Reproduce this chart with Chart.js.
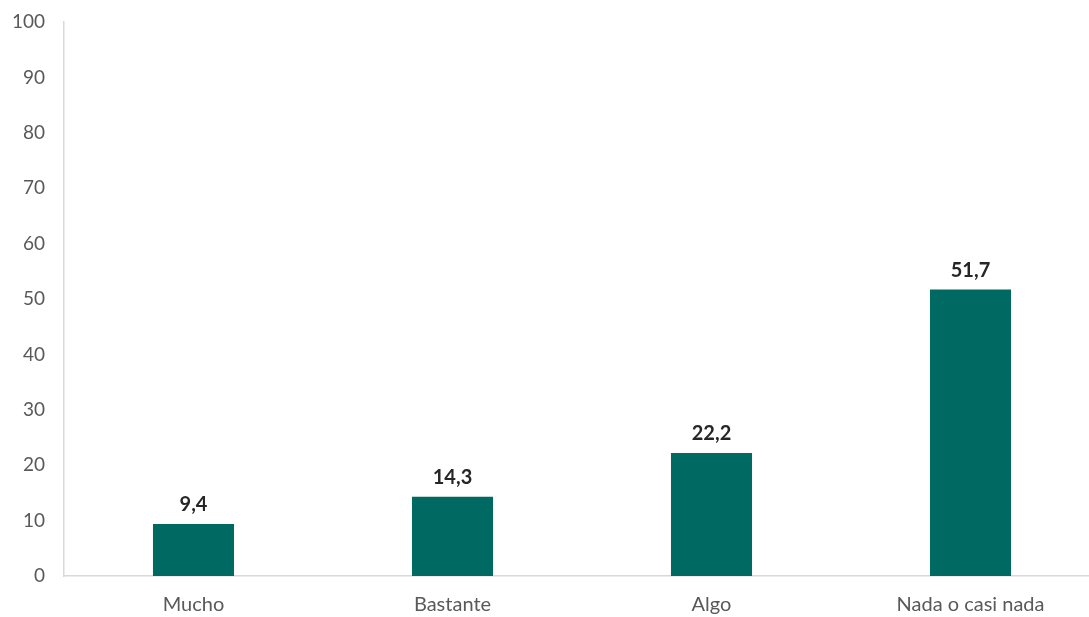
<!DOCTYPE html>
<html>
<head>
<meta charset="utf-8">
<script src="https://cdn.jsdelivr.net/npm/chart.js@4"></script>
<style>
  body { margin: 0; background: #fff; }
  #wrap { width: 1089px; height: 617px; overflow: hidden; }
</style>
</head>
<body>
<div id="wrap"><canvas id="myChart" width="1100" height="617"></canvas></div>
<script>
const categories = ['Mucho', 'Bastante', 'Algo', 'Nada o casi nada'];
const values = [9.4, 14.3, 22.2, 51.7];
const yTicks = [0, 10, 20, 30, 40, 50, 60, 70, 80, 90, 100];

// etiquetas encima de cada barra, con coma decimal
const barLabels = {
  id: 'barLabels',
  afterDatasetsDraw(chart) {
    const ctx = chart.ctx;
    const meta = chart.getDatasetMeta(0);
    ctx.save();
    ctx.font = 'bold 20px Lato, "Open Sans", sans-serif';
    ctx.fillStyle = '#262626';
    ctx.textAlign = 'center';
    ctx.textBaseline = 'bottom';
    meta.data.forEach((bar, i) => {
      ctx.fillText(values[i].toFixed(1).replace('.', ','), bar.x, bar.y - 9);
    });
    ctx.restore();
  }
};

const ctx = document.getElementById('myChart');

new Chart(ctx, {
  type: 'bar',
  data: {
    labels: categories,
    datasets: [{
      data: values,
      borderWidth: 0,
      backgroundColor: '#006961',
      barPercentage: 0.313,
      categoryPercentage: 1
    }]
  },
  options: {
    responsive: false,
    animation: false,
    layout: { padding: { top: 22, right: 0, left: 0, bottom: 0 } },
    plugins: {
      legend: { display: false },
      tooltip: { enabled: false }
    },
    scales: {
      x: {
        afterFit(axis) { axis.height = 41; axis.paddingLeft = 0; axis.paddingRight = 0; },
        grid: { display: false, drawTicks: false },
        border: { display: true, color: '#d9d9d9', width: 1.5 },
        ticks: {
          color: '#595959',
          padding: 17,
          font: { family: 'Lato, "Open Sans", sans-serif', size: 20 }
        }
      },
      y: {
        min: 0,
        max: 100,
        afterBuildTicks(axis) {
          axis.ticks = yTicks.map(v => ({ value: v }));
        },
        afterFit(axis) { axis.width = 64; axis.paddingTop = 0; axis.paddingBottom = 0; },
        grid: { display: false, drawTicks: false },
        border: { display: true, color: '#d9d9d9', width: 1.5 },
        ticks: {
          color: '#595959',
          padding: 19,
          font: { family: 'Lato, "Open Sans", sans-serif', size: 19 }
        }
      }
    }
  },
  plugins: [barLabels]
});
</script>
</body>
</html>
